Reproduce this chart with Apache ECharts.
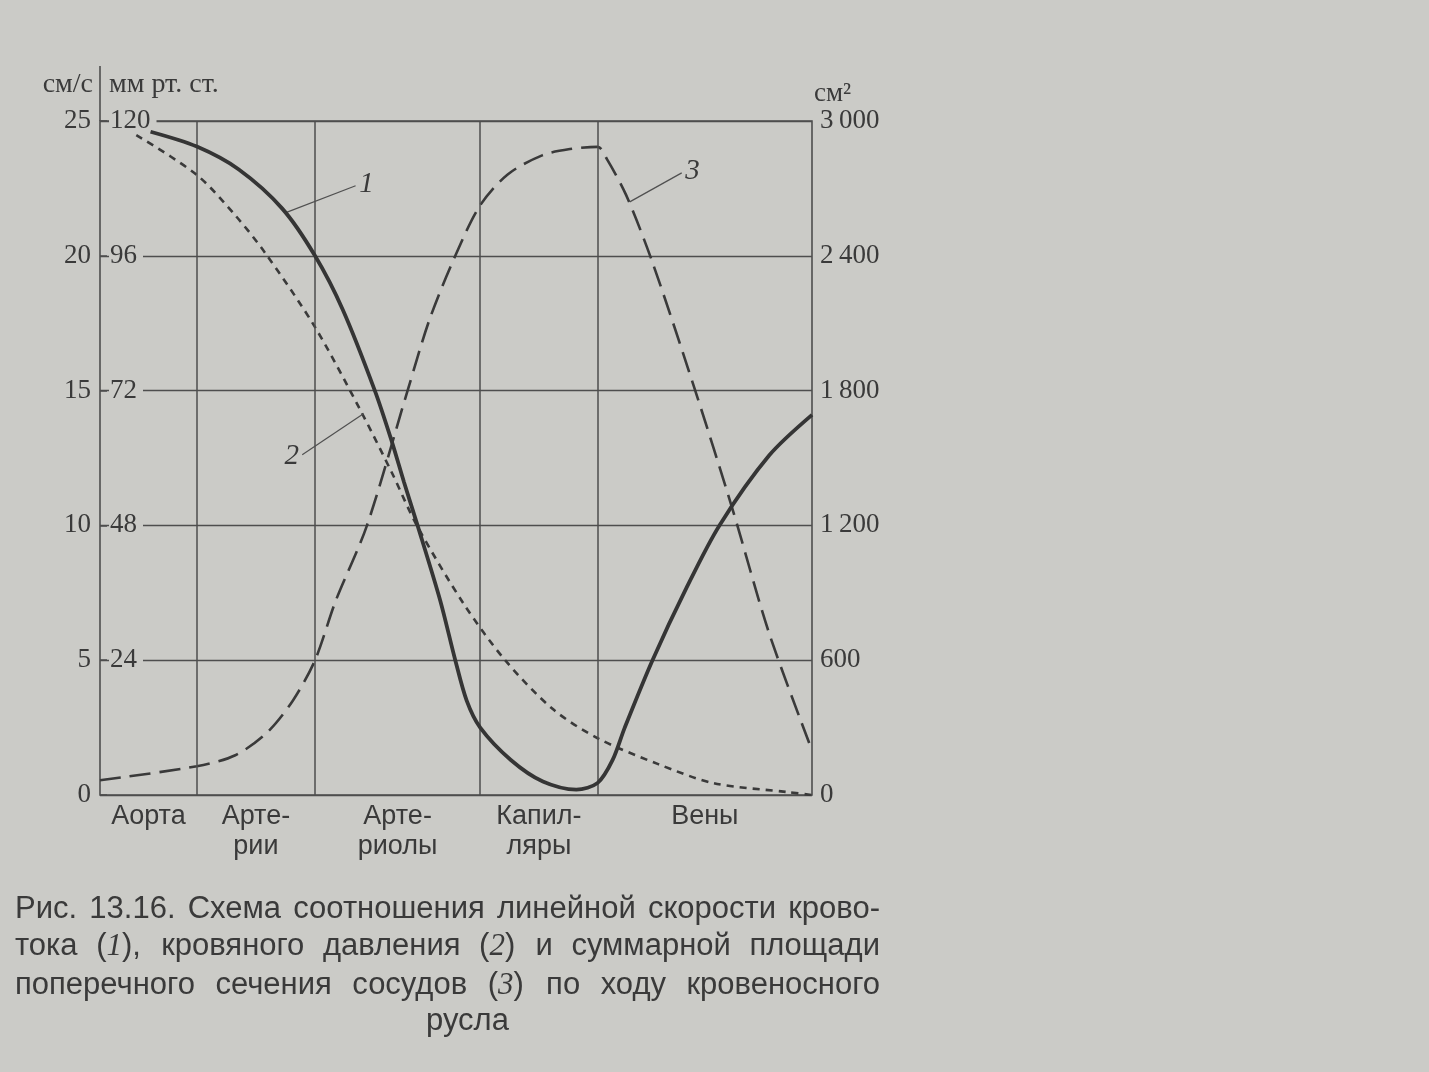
<!DOCTYPE html>
<html>
<head>
<meta charset="utf-8">
<script src="https://cdn.jsdelivr.net/npm/echarts@6/dist/echarts.min.js"></script>
<style>
html,body{margin:0;padding:0;background:#cbcbc7;}
#chart{width:1429px;height:1072px;}
</style>
</head>
<body>
<div id="chart"></div>
<script>
// ---------- data ----------
const categories = ['Аорта', 'Арте-\nрии', 'Арте-\nриолы', 'Капил-\nляры', 'Вены'];
const segmentBounds = [0, 13.6, 30.2, 53.4, 69.9, 100];   // vessel segments along the path
const velocityLabels = ['0', '5', '10', '15', '20', '25'];          // см/с
const pressureLabels = ['', '24', '48', '72', '96', '120'];          // мм рт. ст.
const areaLabels = ['0', '600', '1\u2009200', '1\u2009800', '2\u2009400', '3\u2009000']; // см²

// (1) linear velocity, см/с
const velocity = [[7.1,24.6],[13.6,24.05],[19.5,23.2],[25.6,21.75],[30.2,20.0],[34.1,18.0],[38.6,15.0],
  [41.0,13.1],[42.7,11.6],[44.6,10.0],[47.8,7.2],[49.9,5.0],[51.5,3.5],[53.4,2.5],[57.7,1.3],[62.2,0.5],
  [66.9,0.2],[69.9,0.45],[72.0,1.3],[73.7,2.5],[77.6,5.0],[82.4,7.7],[87.0,10.0],[94.0,12.6],[100,14.1]];
// (2) blood pressure, мм рт. ст.
const pressure = [[5.1,117.5],[13.6,110.4],[19.0,103.2],[23.2,96.5],[30.2,83.3],[36.7,68.2],[41.1,57.1],
  [44.5,48.0],[51.1,34.0],[56.9,24.0],[63.6,15.3],[69.9,10.1],[78.4,5.5],[86.2,2.1],[96.7,0.5],[100,0]];
// (3) total cross-section area, см²
const area = [[0,66],[13.6,128],[19.0,177],[23.5,279],[27.1,421],[30.2,600],[33.1,864],[37.5,1200],
  [43.2,1800],[46.3,2118],[49.9,2400],[53.4,2625],[57.3,2763],[62.1,2847],[66.0,2875],[69.9,2885],
  [71.2,2830],[73.9,2670],[77.6,2370],[83.6,1800],[88.8,1276],[94.0,718],[100,199]];

// curve number callouts: [from point on curve, to end of leader] in each curve's units
const leader1 = [[26.1, 21.6], [35.9, 22.6]];
const leader2 = [[37.0, 67.9], [28.4, 60.6]];
const leader3 = [[74.4, 2640], [81.7, 2769]];

const captionLines = [
  'Рис. 13.16. Схема соотношения линейной скорости крово-',
  'тока (1), кровяного давления (2) и суммарной площади',
  'поперечного сечения сосудов (3) по ходу кровеносного',
  'русла'
];

// ---------- style ----------
const PAPER = '#cbcbc7', INK = '#3a3a3a', GRIDC = '#4e4e4e';
const SERIF = '"Liberation Serif", "DejaVu Serif", serif';
const SANS = '"Liberation Sans", Arial, sans-serif';
const G = {left: 100, top: 121, width: 712, height: 674};

const categoryCenters = categories.map((c, i) => (segmentBounds[i] + segmentBounds[i + 1]) / 2);
const innerBounds = segmentBounds.slice(1, -1);

function leaderItem(pts, text) {
  const lbl = {show: true, position: 'end', distance: 4, formatter: text,
    fontFamily: SERIF, fontStyle: 'italic', fontSize: 29, color: INK};
  return [
    {coord: pts[0], lineStyle: {type: 'solid', width: 1.2, color: '#505050'}, label: lbl},
    {coord: pts[1], lineStyle: {type: 'solid', width: 1.2, color: '#505050'}, label: lbl}
  ];
}

// caption, justified like the printed figure
const measureCtx = document.createElement('canvas').getContext('2d');
const CAP_SIZE = 31;
measureCtx.font = CAP_SIZE + 'px ' + SANS;
const capGraphics = [];
const capLeft = 15, capRight = 880, capTops = [894, 931, 970, 1006];
captionLines.forEach((line, li) => {
  const words = line.split(' ');
  const widths = words.map(w => measureCtx.measureText(w).width);
  const total = widths.reduce((a, b) => a + b, 0);
  const justify = li < captionLines.length - 1;
  let gap = justify ? (capRight - capLeft - total) / (words.length - 1) : measureCtx.measureText(' ').width;
  let x = justify ? capLeft : (capLeft + capRight) / 2 - (total + gap * (words.length - 1)) / 2 + 20;
  words.forEach((w, wi) => {
    const richText = w.replace(/\((\d)\)/, '({i|$1})');
    capGraphics.push({
      type: 'text', x: x, y: capTops[li], silent: true,
      style: {text: richText, fontSize: CAP_SIZE, fontFamily: SANS, fill: INK, align: 'left', verticalAlign: 'top',
        rich: {i: {fontSize: CAP_SIZE, fontFamily: SERIF, fontStyle: 'italic', fill: INK}}}
    });
    x += widths[wi] + gap;
  });
});

const option = {
  backgroundColor: PAPER,
  animation: false,
  grid: {left: G.left, top: G.top, width: G.width, height: G.height, show: true,
    borderColor: GRIDC, borderWidth: 1.6, backgroundColor: 'transparent'},
  xAxis: {
    type: 'value', min: 0, max: 100,
    splitLine: {show: false}, axisLine: {show: false}, axisTick: {show: false},
    axisLabel: {
      customValues: categoryCenters,
      formatter: v => categories[categoryCenters.findIndex(c => Math.abs(c - v) < 0.01)] || '',
      margin: 7, fontFamily: SANS, fontSize: 27, lineHeight: 30, color: INK
    }
  },
  yAxis: [
    {
      type: 'value', min: 0, max: 25, interval: 5, position: 'left',
      axisLine: {show: false}, axisTick: {show: false},
      splitLine: {show: true, lineStyle: {color: GRIDC, width: 1.4}},
      axisLabel: {margin: 9, fontFamily: SERIF, fontSize: 27, color: INK,
        formatter: v => velocityLabels[Math.round(v / 5)]},
      name: 'см/с', nameLocation: 'end', nameGap: 22,
      nameTextStyle: {align: 'right', padding: [0, 7, 0, 0], fontFamily: SERIF, fontSize: 28, color: INK}
    },
    {
      type: 'value', min: 0, max: 120, interval: 24, position: 'left',
      axisLine: {show: false},
      axisTick: {show: true, inside: true, length: 7, lineStyle: {color: GRIDC, width: 1.5}},
      splitLine: {show: false},
      axisLabel: {inside: true, margin: 9, fontFamily: SERIF, fontSize: 27, color: INK,
        backgroundColor: PAPER, padding: [0, 6, 0, 1],
        formatter: v => pressureLabels[Math.round(v / 24)]},
      name: 'мм рт. ст.', nameLocation: 'end', nameGap: 22,
      nameTextStyle: {align: 'left', padding: [0, 0, 0, 9], fontFamily: SERIF, fontSize: 28, color: INK}
    },
    {
      type: 'value', min: 0, max: 3000, interval: 600, position: 'right',
      axisLine: {show: false}, axisTick: {show: false}, splitLine: {show: false},
      axisLabel: {margin: 8, fontFamily: SERIF, fontSize: 27, color: INK,
        formatter: v => areaLabels[Math.round(v / 600)]},
      name: 'см²', nameLocation: 'end', nameGap: 10,
      nameTextStyle: {align: 'left', padding: [0, 0, 0, 2], fontFamily: SERIF, fontSize: 27, color: INK}
    }
  ],
  series: [
    {
      name: '1', type: 'line', xAxisIndex: 0, yAxisIndex: 0, data: velocity,
      smooth: 0.3, showSymbol: false, z: 5,
      lineStyle: {color: '#353535', width: 3.8},
      markLine: {
        silent: true, symbol: ['none', 'none'], animation: false,
        label: {show: false},
        lineStyle: {type: 'solid', color: GRIDC, width: 1.5},
        data: innerBounds.map(v => ({xAxis: v})).concat([leaderItem(leader1, '1')])
      }
    },
    {
      name: '2', type: 'line', xAxisIndex: 0, yAxisIndex: 1, data: pressure,
      smooth: 0.3, showSymbol: false, z: 4,
      lineStyle: {color: '#3a3a3a', width: 2.6, type: [7, 6]},
      markLine: {silent: true, symbol: ['none', 'none'], animation: false, data: [leaderItem(leader2, '2')]}
    },
    {
      name: '3', type: 'line', xAxisIndex: 0, yAxisIndex: 2, data: area,
      smooth: 0.3, showSymbol: false, z: 4,
      lineStyle: {color: '#3a3a3a', width: 2.6, type: [21, 9]},
      markLine: {silent: true, symbol: ['none', 'none'], animation: false, data: [leaderItem(leader3, '3')]}
    }
  ],
  graphic: [
    {type: 'line', silent: true, shape: {x1: G.left, y1: 66, x2: G.left, y2: G.top},
      style: {stroke: GRIDC, lineWidth: 1.6}}
  ].concat(capGraphics)
};

const chart = echarts.init(document.getElementById('chart'), null, {renderer: 'canvas'});
chart.setOption(option);
</script>
</body>
</html>
